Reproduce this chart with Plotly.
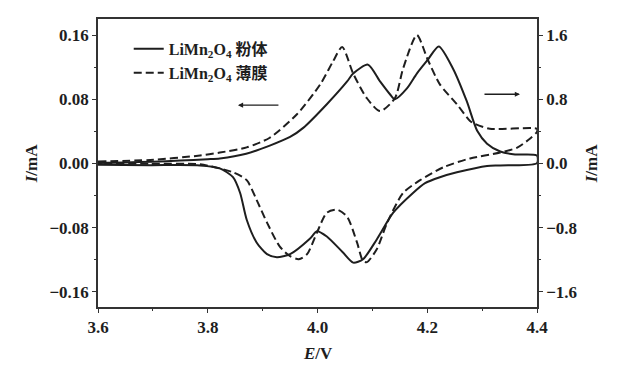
import plotly.graph_objects as go

# ---- data ----
# LiMn2O4 powder (solid), left axis, mA
powder_anodic_E = [3.600, 3.650, 3.700, 3.750, 3.800, 3.822, 3.870, 3.913, 3.950, 3.974,
                   4.017, 4.054, 4.065, 4.092, 4.114, 4.132, 4.141, 4.163, 4.181, 4.201, 4.221,
                   4.247, 4.272, 4.291, 4.309, 4.333, 4.360, 4.400]
powder_anodic_I = [0.0009, 0.0012, 0.0022, 0.0035, 0.0052, 0.0062, 0.0120, 0.0222, 0.0330, 0.0443,
                   0.0738, 0.1022, 0.1120, 0.1231, 0.1022, 0.0862, 0.0800, 0.0935, 0.1120, 0.1292, 0.1458,
                   0.1181, 0.0775, 0.0406, 0.0246, 0.0148, 0.0111, 0.0098]
powder_cathodic_E = [4.400, 4.333, 4.309, 4.254, 4.223, 4.196, 4.174, 4.138, 4.108, 4.083, 4.065, 4.046,
                     4.017, 3.999, 3.986, 3.950, 3.926, 3.908, 3.889, 3.871, 3.859, 3.846, 3.822,
                     3.786, 3.695, 3.600]
powder_cathodic_I = [0.0004, -0.0025, -0.0031, -0.0111, -0.0172, -0.0246, -0.0369, -0.0615, -0.0948, -0.1194, -0.1237, -0.1108,
                     -0.0911, -0.0845, -0.0940, -0.1132, -0.1169, -0.1132, -0.0985, -0.0702, -0.0369, -0.0172, -0.0062,
                     -0.0025, -0.0022, -0.0018]

# LiMn2O4 film (dashed), right axis, mA
film_anodic_E = [3.600, 3.695, 3.786, 3.822, 3.871, 3.913, 3.963, 4.005, 4.028, 4.045, 4.065,
                 4.090, 4.114, 4.141, 4.156, 4.181, 4.201, 4.223, 4.254, 4.278, 4.287, 4.314, 4.400]
film_anodic_I = [0.025, 0.043, 0.098, 0.135, 0.200, 0.320, 0.615, 0.985, 1.268, 1.452, 1.120,
                 0.812, 0.652, 0.812, 1.182, 1.600, 1.292, 0.985, 0.738, 0.529, 0.492, 0.431, 0.431]
film_cathodic_E = [4.400, 4.387, 4.364, 4.333, 4.278, 4.229, 4.187, 4.156, 4.127, 4.108, 4.090,
                   4.083, 4.072, 4.054, 4.036, 4.017, 3.999, 3.981, 3.966, 3.950, 3.931, 3.908,
                   3.889, 3.871, 3.846, 3.786, 3.695, 3.600]
film_cathodic_I = [0.394, 0.308, 0.197, 0.135, 0.062, -0.049, -0.209, -0.369, -0.738, -1.071, -1.231,
                   -1.218, -0.985, -0.665, -0.578, -0.615, -0.862, -1.132, -1.194, -1.157, -1.034, -0.738,
                   -0.455, -0.209, -0.111, -0.012, -0.006, -0.004]

x_ticks = [3.6, 3.8, 4.0, 4.2, 4.4]
y_left_ticks = [-0.16, -0.08, 0.0, 0.08, 0.16]
y_right_ticks = [-1.6, -0.8, 0.0, 0.8, 1.6]
legend_names = ["LiMn<sub>2</sub>O<sub>4</sub> 粉体", "LiMn<sub>2</sub>O<sub>4</sub> 薄膜"]

FONT = "Liberation Serif, Times New Roman, Noto Sans CJK SC, serif"
INK = "#1e1e1e"

fig = go.Figure()
fig.add_trace(go.Scatter(
    x=powder_anodic_E + powder_cathodic_E,
    y=powder_anodic_I + powder_cathodic_I,
    mode="lines", name="<b>" + legend_names[0] + "</b>",
    line=dict(color=INK, width=2.0, shape="spline", smoothing=0.7),
    yaxis="y"))
fig.add_trace(go.Scatter(
    x=film_anodic_E + film_cathodic_E,
    y=film_anodic_I + film_cathodic_I,
    mode="lines", name="<b>" + legend_names[1] + "</b>",
    line=dict(color=INK, width=2.0, dash="8px,4px", shape="spline", smoothing=0.7),
    yaxis="y2"))

axis_common = dict(showline=True, linecolor="#333333", linewidth=1.5, showgrid=False,
                   zeroline=False, ticks="outside", ticklen=4, tickcolor="#333333",
                   tickfont=dict(family=FONT, size=17, color=INK))

# page body has an 8px margin, so the figure is sized/margined to compensate
fig.update_layout(
    width=632, height=371,
    margin=dict(l=90, r=103, t=9, b=72),
    paper_bgcolor="white", plot_bgcolor="white",
    showlegend=True,
    legend=dict(x=0.07, y=0.955, xanchor="left", yanchor="top",
                bgcolor="rgba(0,0,0,0)", font=dict(family=FONT, size=16, color=INK),
                tracegroupgap=0, itemwidth=30),
    xaxis=dict(range=[3.6, 4.4], tickvals=x_ticks, ticktext=[f"<b>{v:.1f}</b>" for v in x_ticks],
               mirror=True, minor=dict(dtick=0.1, ticks="outside", ticklen=2, tickcolor="#333333"),
               **axis_common),
    yaxis=dict(range=[-0.179, 0.18], tickvals=y_left_ticks,
               ticktext=[f"<b>{v:.2f}</b>".replace("-", "\u2212") for v in y_left_ticks],
               minor=dict(dtick=0.04, ticks="outside", ticklen=2, tickcolor="#333333"),
               **axis_common),
    yaxis2=dict(range=[-1.79, 1.8], tickvals=y_right_ticks,
                ticktext=[f"<b>{v:.1f}</b>".replace("-", "\u2212") for v in y_right_ticks],
                overlaying="y", side="right",
                minor=dict(dtick=0.4, ticks="outside", ticklen=2, tickcolor="#333333"),
                **axis_common),
)

# axis titles
fig.add_annotation(xref="paper", yref="paper", x=-0.178, y=0.5, text="<b><i>I</i>/mA</b>",
                   textangle=-90, showarrow=False, font=dict(family=FONT, size=17, color=INK))
fig.add_annotation(xref="paper", yref="paper", x=1.15, y=0.5, text="<b><i>I</i>/mA</b>",
                   textangle=-90, showarrow=False, font=dict(family=FONT, size=17, color=INK))
fig.add_annotation(xref="paper", yref="paper", x=0.5, y=-0.12, yanchor="top",
                   text="<b><i>E</i>/V</b>", showarrow=False, font=dict(family=FONT, size=17, color=INK))

# arrows indicating which axis each curve uses
fig.add_annotation(x=3.855, y=0.0726, xref="x", yref="y", ax=42, ay=0, axref="pixel", ayref="pixel",
                   text="", showarrow=True, arrowhead=2, arrowsize=0.8, arrowwidth=1.3, arrowcolor=INK)
fig.add_annotation(x=4.369, y=0.0862, xref="x", yref="y", ax=-37, ay=0, axref="pixel", ayref="pixel",
                   text="", showarrow=True, arrowhead=2, arrowsize=0.8, arrowwidth=1.3, arrowcolor=INK)

fig.write_html("out.html")
